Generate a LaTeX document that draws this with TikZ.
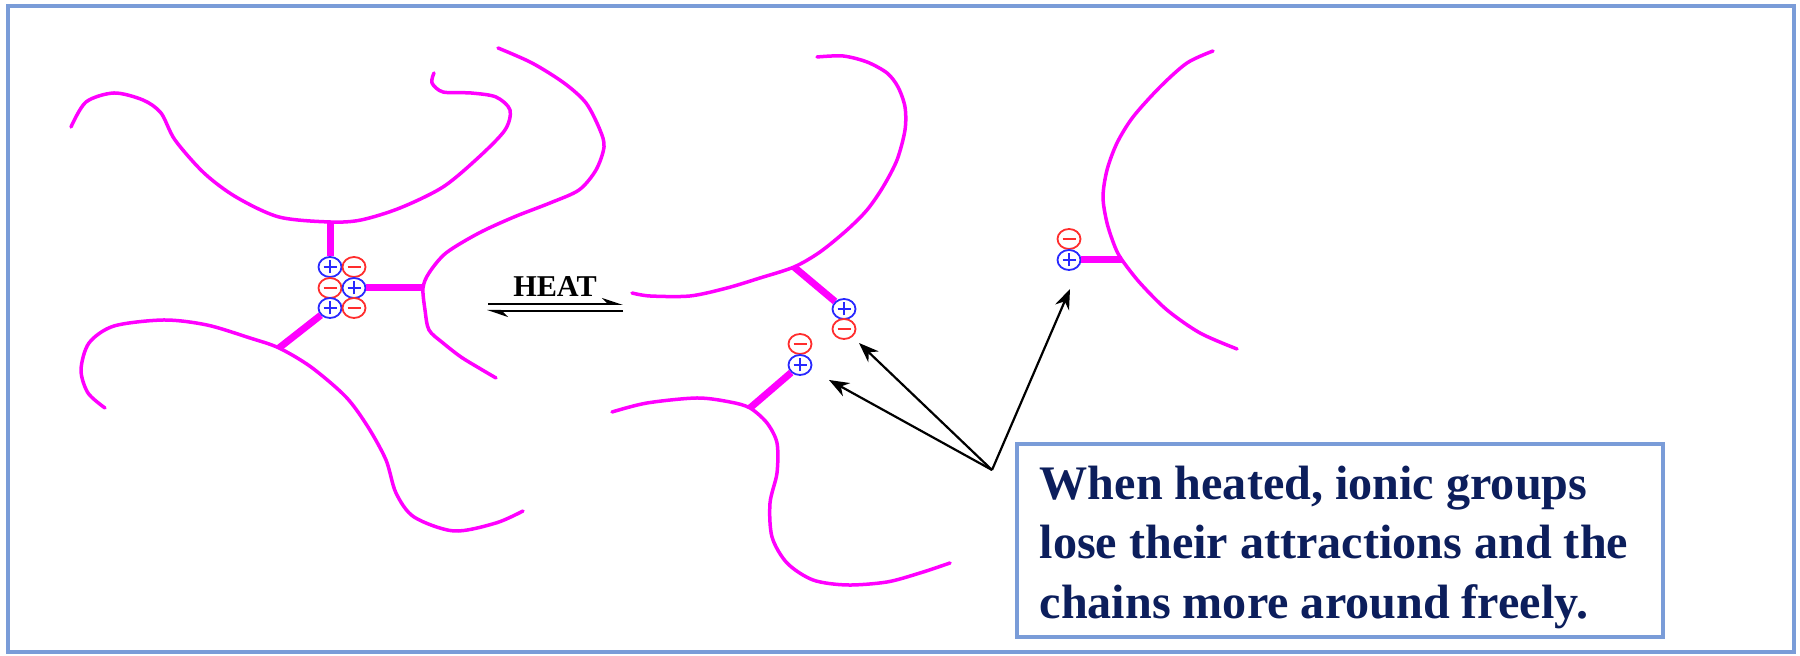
\documentclass[tikz,border=0pt]{standalone}
\usepackage{fontspec}
\setmainfont{Liberation Serif}
\usetikzlibrary{arrows.meta,shapes.geometric}

\definecolor{frameblue}{RGB}{122,156,216}
\definecolor{notenavy}{RGB}{12,30,92}
\definecolor{chainpink}{RGB}{255,0,255}
\definecolor{ionblue}{RGB}{40,40,255}
\definecolor{ionred}{RGB}{255,45,45}

\begin{document}
\begin{tikzpicture}[x=0.1mm,y=-0.1mm,
  chain/.style={chainpink,line width=0.35mm,line cap=round,line join=round},
  link/.style={chainpink,line width=0.7mm},
  ion/.style={ellipse,fill=white,line width=0.18mm,minimum width=2.3mm,minimum height=2mm,inner sep=0pt},
  cat/.style={ion,draw=ionblue,path picture={
    \draw[ionblue,line width=0.2mm] (path picture bounding box.center) +(-0.65mm,0) -- +(0.65mm,0)
      (path picture bounding box.center) +(0,-0.65mm) -- +(0,0.65mm);}},
  an/.style={ion,draw=ionred,path picture={
    \draw[ionred,line width=0.2mm] (path picture bounding box.center) +(-0.65mm,0) -- +(0.65mm,0);}},
  pointer/.style={-{Stealth[length=2mm,width=1.5mm]},line width=0.22mm},
  harpoon/.style={-{Stealth[left,length=1.8mm,width=1.2mm]},line width=0.2mm}]
\useasboundingbox (0,0) rectangle (1800,656);
\draw[frameblue,line width=0.4mm] (8,6) rectangle (1794,652);

% attachment points on the chains
\coordinate (A1) at (330,222);
\coordinate (B1) at (423,288);
\coordinate (C1) at (279,348);
\coordinate (D1) at (794,267);
\coordinate (E1) at (750,408);
\coordinate (F1) at (1122,260);

% cross-linked state
\draw[chain] plot[smooth] coordinates {(71,127) (86,102) (114,93) (143,100) (161,113) (175,140)
  (204,173) (236,197) (279,217) (A1) (361,220) (400,208) (443,187) (479,157) (505,130)
  (510,110) (496,97) (471,93) (443,92) (432,83) (434,73)};
\draw[chain] plot[smooth] coordinates {(498,48) (532,63) (564,83) (586,103) (600,130) (604,147)
  (596,170) (579,190) (550,203) (514,217) (479,233) (446,253) (429,273) (B1) (425,310)
  (429,330) (443,343) (461,357) (479,368) (496,378)};
\draw[chain] plot[smooth] coordinates {(105,408) (88,393) (81,370) (89,343) (114,326) (164,320)
  (207,325) (250,338) (C1) (311,367) (346,397) (368,427) (386,460) (396,493) (414,517)
  (454,531) (496,523) (523,511)};

\node[cat] (P1) at (330,267) {};
\node[an]  (M1) at (354,267) {};
\node[an]  (M2) at (330,288) {};
\node[cat] (P2) at (354,288) {};
\node[cat] (P3) at (330,308) {};
\node[an]  (M3) at (354,308) {};
\draw[link] (A1) -- (P1);
\draw[link] (P2) -- (B1);
\draw[link] (P3) -- (C1);

% reversible heating
\node[font=\bfseries\fontsize{8.6}{9}\selectfont,anchor=base] (heat) at (555,297) {HEAT};
\coordinate (h1) at (488,304);
\coordinate (h2) at (623,304);
\coordinate (h3) at (623,311);
\coordinate (h4) at (487,311);
\draw[harpoon] (h1) -- (h2);
\draw[harpoon] (h3) -- (h4);

% free chains
\draw[chain] plot[smooth] coordinates {(632,293) (650,296) (690,296) (727,288) (760,278) (D1)
  (820,252) (847,230) (867,210) (883,187) (897,160) (905,130) (905,107) (898,87) (887,73)
  (867,62) (843,56) (817,57)};
\draw[chain] plot[smooth] coordinates {(612,412) (647,403) (697,398) (730,402) (E1) (767,423)
  (777,443) (777,473) (770,503) (772,537) (787,563) (813,580) (847,585) (887,582) (920,573)
  (950,563)};
\draw[chain] plot[smooth] coordinates {(1213,51) (1187,63) (1160,87) (1133,117) (1117,143)
  (1107,170) (1103,197) (1107,223) (1115,247) (F1) (1140,283) (1167,310) (1200,333) (1237,349)};

\node[cat] (P4) at (844,309) {};
\node[an]  (M4) at (844,329) {};
\node[an]  (M5) at (800,344) {};
\node[cat] (P5) at (800,365) {};
\node[an]  (M6) at (1069,239) {};
\node[cat] (P6) at (1069,260) {};
\draw[link] (D1) -- (P4);
\draw[link] (P5) -- (E1);
\draw[link] (P6) -- (F1);

% callout
\coordinate (O) at (992,470);
\coordinate (T1) at (829,380);
\coordinate (T2) at (859,343);
\coordinate (T3) at (1070,289);
\draw[pointer] (O) -- (T1);
\draw[pointer] (O) -- (T2);
\draw[pointer] (O) -- (T3);

\draw[frameblue,line width=0.4mm,fill=white] (1017,444) rectangle (1663,637);
\node[anchor=north west,inner sep=0pt,align=left,text=notenavy,
  font=\bfseries\fontsize{13.7}{17}\selectfont] (note) at (1039,465)
  {When heated, ionic groups\\lose their attractions and the\\chains more around freely.};
\end{tikzpicture}
\end{document}
